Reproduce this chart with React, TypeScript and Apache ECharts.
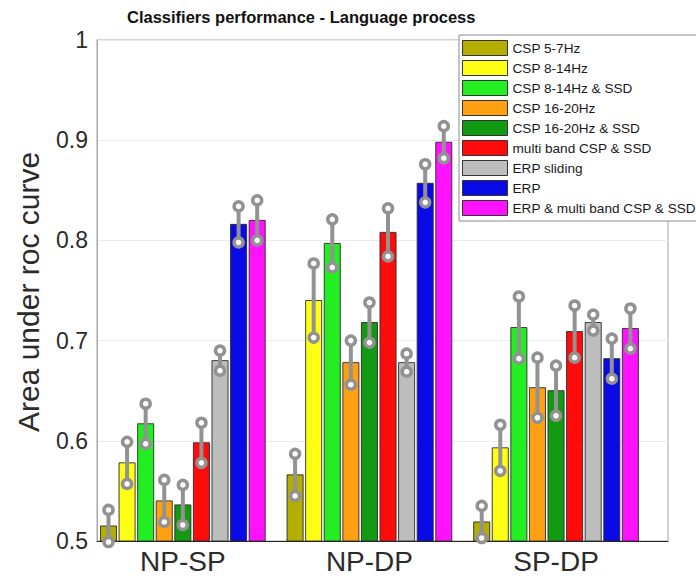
import React, { useEffect, useRef } from "react";
import * as echarts from "echarts";

// Conditions on the x axis
const categories = ["NP-SP", "NP-DP", "SP-DP"];

// Classifiers, in drawing order
const methods = [
  "CSP 5-7Hz",
  "CSP 8-14Hz",
  "CSP 8-14Hz & SSD",
  "CSP 16-20Hz",
  "CSP 16-20Hz & SSD",
  "multi band CSP & SSD",
  "ERP sliding",
  "ERP",
  "ERP & multi band CSP & SSD",
];

const methodColors = [
  "#b3ae00",
  "#ffff14",
  "#22ee22",
  "#ffa012",
  "#129a12",
  "#ff0b0b",
  "#bdbdbd",
  "#0a0ae6",
  "#ff12ff",
];

// Mean AUC per classifier, one array per condition
const npSpMean = [0.515, 0.578, 0.617, 0.54, 0.536, 0.598, 0.68, 0.816, 0.82];
const npDpMean = [0.566, 0.74, 0.797, 0.678, 0.718, 0.808, 0.678, 0.857, 0.898];
const spDpMean = [0.519, 0.593, 0.713, 0.653, 0.65, 0.709, 0.718, 0.682, 0.712];

// Error half-widths per classifier, one array per condition
const npSpErr = [0.016, 0.021, 0.02, 0.021, 0.02, 0.02, 0.01, 0.018, 0.02];
const npDpErr = [0.021, 0.037, 0.024, 0.022, 0.02, 0.024, 0.009, 0.019, 0.016];
const spDpErr = [0.016, 0.023, 0.031, 0.03, 0.025, 0.026, 0.008, 0.02, 0.02];

const yTicks = [0.5, 0.6, 0.7, 0.8, 0.9, 1];

const FONT = "'Liberation Sans', Arial, Helvetica, sans-serif";
const SLOT = 0.0996; // distance between neighbouring bars, in x units
const BAR_W = 0.086; // bar width, in x units
const ERR_COLOR = "#929292";

export default function App() {
  const ref = useRef<HTMLDivElement>(null);

  useEffect(() => {
    if (!ref.current) return;
    const chart = echarts.init(ref.current, null, { renderer: "svg" });

    const meansByGroup = [npSpMean, npDpMean, spDpMean];
    const errsByGroup = [npSpErr, npDpErr, spDpErr];

    const series = methods.map((name, k) => ({
      name,
      type: "custom",
      itemStyle: { color: methodColors[k], borderColor: "#333", borderWidth: 1 },
      encode: { x: 0, y: 1 },
      data: categories.map((_, g) => [g + 1, meansByGroup[g][k], errsByGroup[g][k]]),
      renderItem: (params: any, api: any) => {
        const g = api.value(0);
        const m = api.value(1);
        const e = api.value(2);
        const xc = g + (k - 4) * SLOT;
        const w = BAR_W * api.size([1, 0])[0];
        const top = api.coord([xc, m]);
        const base = api.coord([xc, yTicks[0]]);
        const hi = api.coord([xc, m + e]);
        const lo = api.coord([xc, m - e]);
        return {
          type: "group",
          children: [
            {
              type: "rect",
              shape: { x: top[0] - w / 2, y: top[1], width: w, height: base[1] - top[1] },
              style: { fill: methodColors[k], stroke: "#2a2a2a", lineWidth: 0.9 },
            },
            {
              type: "line",
              shape: { x1: hi[0], y1: hi[1], x2: lo[0], y2: lo[1] },
              style: { stroke: ERR_COLOR, lineWidth: 4 },
            },
            {
              type: "circle",
              shape: { cx: hi[0], cy: hi[1], r: 4.5 },
              style: { fill: "#fff", stroke: ERR_COLOR, lineWidth: 3.5 },
            },
            {
              type: "circle",
              shape: { cx: lo[0], cy: lo[1], r: 4.5 },
              style: { fill: "#fff", stroke: ERR_COLOR, lineWidth: 3.5 },
            },
          ],
        };
      },
    }));

    chart.setOption({
      animation: false,
      backgroundColor: "#fff",
      textStyle: { fontFamily: FONT },
      title: {
        text: "Classifiers performance - Language process",
        left: 127,
        top: 8,
        padding: 0,
        textStyle: { fontSize: 16.5, fontWeight: "bold", color: "#111", fontFamily: FONT },
      },
      grid: {
        left: 97,
        right: 28,
        top: 40,
        bottom: 37,
        show: true,
        borderColor: "#a6a6a6",
        borderWidth: 1,
      },
      legend: {
        orient: "vertical",
        left: 459,
        top: 35,
        padding: [5, 60, 5, 3],
        itemWidth: 45,
        itemHeight: 15,
        itemGap: 4,
        backgroundColor: "#fff",
        borderColor: "#8a8a8a",
        borderWidth: 1,
        borderRadius: 0,
        icon: "rect",
        textStyle: { fontSize: 13.6, color: "#1a1a1a", fontFamily: FONT, lineHeight: 15 },
        data: methods.map((name, k) => ({
          name,
          itemStyle: { color: methodColors[k], borderColor: "#333", borderWidth: 1 },
        })),
      },
      xAxis: {
        type: "value",
        min: 0.54,
        max: 3.6,
        axisLine: { show: true, onZero: false, lineStyle: { color: "#262626", width: 1 } },
        axisTick: { show: false },
        splitLine: { show: false },
        axisLabel: {
          customValues: [1, 2, 3],
          formatter: (v: number) => categories[Math.round(v) - 1] ?? "",
          fontSize: 28,
          color: "#2b2b2b",
          margin: 6,
          fontFamily: FONT,
        },
      },
      yAxis: {
        type: "value",
        min: yTicks[0],
        max: yTicks[yTicks.length - 1],
        interval: 0.1,
        axisLine: { show: true, lineStyle: { color: "#a6a6a6" } },
        axisTick: { show: false },
        splitLine: { show: true, lineStyle: { color: "#ebebeb", width: 1 } },
        axisLabel: {
          fontSize: 23,
          color: "#2b2b2b",
          margin: 9,
          fontFamily: FONT,
          formatter: (v: number) => String(Math.round(v * 10) / 10),
        },
      },
      graphic: [
        {
          type: "text",
          x: 28,
          y: 292,
          rotation: Math.PI / 2,
          style: {
            text: "Area under roc curve",
            fontSize: 30,
            fontFamily: FONT,
            fill: "#2b2b2b",
            align: "center",
            verticalAlign: "middle",
          },
        },
      ],
      series,
    });

    return () => chart.dispose();
  }, []);

  return (
    <div
      ref={ref}
      style={{ position: "fixed", left: 0, top: 0, width: 696, height: 578 }}
    />
  );
}
